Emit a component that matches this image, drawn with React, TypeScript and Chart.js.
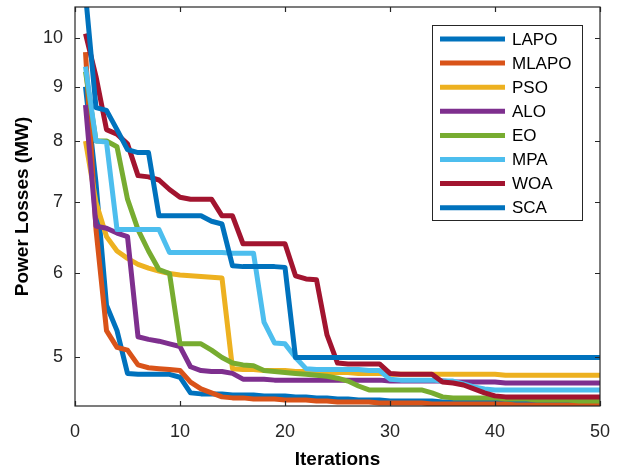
import React, { useEffect, useRef } from "react";
import { Chart, registerables } from "chart.js";

Chart.register(...registerables);

const seriesNames = ["LAPO", "MLAPO", "PSO", "ALO", "EO", "MPA", "WOA", "SCA"];
const seriesColors = ["#0072BD", "#D95319", "#EDB120", "#7E2F8E", "#77AC30", "#4DBEEE", "#A2142F", "#0072BD"];

const iterations = Array.from({ length: 50 }, (_, i) => i + 1);

const LAPO = [9.0, 7.3, 5.6, 5.3, 4.83, 4.82, 4.82, 4.82, 4.82, 4.79,
  4.63, 4.62, 4.62, 4.62, 4.61, 4.61, 4.61, 4.6, 4.6, 4.6,
  4.59, 4.59, 4.58, 4.58, 4.57, 4.57, 4.56, 4.56, 4.56, 4.55,
  4.55, 4.55, 4.55, 4.55, 4.54, 4.54, 4.54, 4.54, 4.54, 4.54,
  4.53, 4.53, 4.53, 4.53, 4.53, 4.53, 4.53, 4.53, 4.53, 4.53];
const MLAPO = [9.7, 6.6, 5.3, 5.11, 5.08, 4.92, 4.89, 4.88, 4.87, 4.86,
  4.74, 4.67, 4.63, 4.59, 4.58, 4.58, 4.57, 4.57, 4.57, 4.56,
  4.56, 4.56, 4.55, 4.55, 4.54, 4.54, 4.54, 4.54, 4.53, 4.53,
  4.53, 4.53, 4.53, 4.52, 4.52, 4.52, 4.52, 4.52, 4.52, 4.52,
  4.52, 4.51, 4.51, 4.51, 4.51, 4.51, 4.51, 4.51, 4.51, 4.51];
const PSO = [8.0, 7.0, 6.5, 6.3, 6.2, 6.12, 6.07, 6.03, 6.0, 5.98,
  5.97, 5.96, 5.95, 5.94, 4.88, 4.87, 4.87, 4.86, 4.86, 4.86,
  4.85, 4.85, 4.85, 4.84, 4.84, 4.84, 4.83, 4.83, 4.83, 4.82,
  4.82, 4.82, 4.82, 4.82, 4.82, 4.82, 4.82, 4.82, 4.82, 4.82,
  4.81, 4.81, 4.81, 4.81, 4.81, 4.81, 4.81, 4.81, 4.81, 4.81];
const ALO = [8.65, 6.65, 6.62, 6.55, 6.5, 5.23, 5.2, 5.18, 5.15, 5.12,
  4.9, 4.86, 4.85, 4.85, 4.83, 4.77, 4.77, 4.77, 4.76, 4.76,
  4.76, 4.76, 4.76, 4.76, 4.76, 4.76, 4.76, 4.76, 4.76, 4.75,
  4.75, 4.75, 4.75, 4.75, 4.75, 4.74, 4.74, 4.74, 4.74, 4.74,
  4.73, 4.73, 4.73, 4.73, 4.73, 4.73, 4.73, 4.73, 4.73, 4.73];
const EO = [9.3, 8.0, 8.0, 7.9, 7.05, 6.6, 6.3, 6.05, 6.0, 5.15,
  5.15, 5.15, 5.08, 5.0, 4.94, 4.92, 4.91, 4.86, 4.85, 4.84,
  4.83, 4.82, 4.81, 4.8, 4.78, 4.75, 4.7, 4.66, 4.66, 4.66,
  4.66, 4.66, 4.66, 4.63, 4.59, 4.58, 4.58, 4.58, 4.58, 4.58,
  4.57, 4.57, 4.57, 4.56, 4.56, 4.56, 4.56, 4.55, 4.55, 4.55];
const MPA = [9.4, 8.0, 7.98, 6.6, 6.6, 6.6, 6.6, 6.6, 6.28, 6.28,
  6.28, 6.28, 6.28, 6.28, 6.27, 6.27, 6.27, 5.4, 5.16, 5.15,
  5.0, 4.88, 4.87, 4.87, 4.87, 4.87, 4.87, 4.86, 4.86, 4.77,
  4.76, 4.76, 4.76, 4.76, 4.75, 4.75, 4.72, 4.69, 4.67, 4.66,
  4.66, 4.66, 4.66, 4.66, 4.66, 4.66, 4.66, 4.66, 4.66, 4.66];
const WOA = [10.1, 9.2, 8.2, 8.12, 7.95, 7.42, 7.4, 7.35, 7.2, 7.08,
  7.05, 7.05, 7.05, 6.8, 6.8, 6.4, 6.4, 6.4, 6.4, 6.4,
  5.97, 5.93, 5.92, 5.25, 4.94, 4.93, 4.93, 4.93, 4.93, 4.83,
  4.82, 4.82, 4.82, 4.82, 4.74, 4.73, 4.71, 4.67, 4.63, 4.6,
  4.59, 4.59, 4.59, 4.59, 4.59, 4.59, 4.59, 4.59, 4.59, 4.59];
const SCA = [11.0, 8.6, 8.55, 8.2, 7.85, 7.8, 7.8, 6.8, 6.8, 6.8,
  6.8, 6.8, 6.72, 6.68, 6.1, 6.09, 6.09, 6.09, 6.09, 6.08,
  5.0, 5.0, 5.0, 5.0, 5.0, 5.0, 5.0, 5.0, 5.0, 5.0,
  5.0, 5.0, 5.0, 5.0, 5.0, 5.0, 5.0, 5.0, 5.0, 5.0,
  5.0, 5.0, 5.0, 5.0, 5.0, 5.0, 5.0, 5.0, 5.0, 5.0];

const seriesValues = [LAPO, MLAPO, PSO, ALO, EO, MPA, WOA, SCA];

const xTickValues = [0, 10, 20, 30, 40, 50];
const yTickValues = [5, 6, 7, 8, 9, 10];

const FONT = "'Liberation Sans', Arial, Helvetica, sans-serif";
const AXIS_COLOR = "#262626";

const framePlugin = {
  id: "matlabFrame",
  afterDatasetsDraw(chart: any) {
    const { ctx, chartArea: a, scales } = chart;
    ctx.save();
    ctx.strokeStyle = AXIS_COLOR;
    ctx.lineWidth = 1.2;
    const tl = 5;
    ctx.beginPath();
    for (const v of xTickValues) {
      const px = Math.round(scales.x.getPixelForValue(v)) + 0.5;
      ctx.moveTo(px, a.bottom);
      ctx.lineTo(px, a.bottom - tl);
      ctx.moveTo(px, a.top);
      ctx.lineTo(px, a.top + tl);
    }
    for (const v of yTickValues) {
      const py = Math.round(scales.y.getPixelForValue(v)) + 0.5;
      ctx.moveTo(a.left, py);
      ctx.lineTo(a.left + tl, py);
      ctx.moveTo(a.right, py);
      ctx.lineTo(a.right - tl, py);
    }
    ctx.stroke();
    ctx.strokeRect(a.left, a.top, a.right - a.left, a.bottom - a.top);

    // legend
    const bw = 150, bh = 195;
    const bx = a.right - 18 - bw;
    const by = a.top + 18;
    ctx.fillStyle = "#ffffff";
    ctx.fillRect(bx, by, bw, bh);
    ctx.lineWidth = 1;
    ctx.strokeStyle = AXIS_COLOR;
    ctx.strokeRect(bx + 0.5, by + 0.5, bw, bh);
    ctx.font = `17px ${FONT}`;
    ctx.textBaseline = "middle";
    ctx.textAlign = "left";
    chart.data.datasets.forEach((ds: any, i: number) => {
      const y = by + 14 + i * 24.1;
      ctx.strokeStyle = ds.borderColor;
      ctx.lineWidth = 5;
      ctx.beginPath();
      ctx.moveTo(bx + 8, y);
      ctx.lineTo(bx + 73, y);
      ctx.stroke();
      ctx.fillStyle = "#000000";
      ctx.fillText(ds.label, bx + 80, y + 1);
    });
    ctx.restore();
  },
};

export default function App() {
  const ref = useRef<HTMLCanvasElement | null>(null);
  useEffect(() => {
    if (!ref.current) return;
    const datasets = seriesNames.map((name, i) => ({
      label: name,
      data: iterations.map((it, k) => ({ x: it, y: seriesValues[i][k] })),
      borderColor: seriesColors[i],
      backgroundColor: seriesColors[i],
      borderWidth: 5,
      pointRadius: 0,
      tension: 0,
      borderJoinStyle: "round" as const,
      order: seriesNames.length - i,
    }));
    const chart = new Chart(ref.current, {
      type: "line",
      data: { datasets },
      options: {
        animation: false,
        responsive: false,
        layout: { padding: { left: 0, right: 24, top: 7, bottom: 0 } },
        plugins: { legend: { display: false }, tooltip: { enabled: false } },
        scales: {
          x: {
            type: "linear",
            min: 0,
            max: 50,
            afterBuildTicks: (s: any) => {
              s.ticks = xTickValues.map((v) => ({ value: v }));
            },
            afterFit: (s: any) => {
              s.height = 66;
              s.paddingLeft = 0;
              s.paddingRight = 0;
            },
            grid: { display: false, drawTicks: false },
            border: { display: false },
            ticks: {
              padding: 15,
              color: AXIS_COLOR,
              font: { family: FONT, size: 18 },
              maxRotation: 0,
              callback: (v: any) => String(v),
            },
            title: {
              display: true,
              text: "Iterations",
              color: "#000",
              font: { family: FONT, size: 19, weight: "bold" },
              padding: { top: 0, bottom: 1 },
            },
          },
          y: {
            type: "logarithmic",
            min: 4.5,
            max: 10.7,
            afterBuildTicks: (s: any) => {
              s.ticks = yTickValues.map((v) => ({ value: v }));
            },
            afterFit: (s: any) => {
              s.width = 75;
              s.paddingTop = 0;
              s.paddingBottom = 0;
            },
            grid: { display: false, drawTicks: false },
            border: { display: false },
            ticks: {
              padding: 12,
              color: AXIS_COLOR,
              font: { family: FONT, size: 18 },
              callback: (v: any) => String(v),
            },
            title: {
              display: true,
              text: "Power Losses (MW)",
              color: "#000",
              font: { family: FONT, size: 19, weight: "bold" },
              padding: { top: 11, bottom: 0 },
            },
          },
        },
      },
      plugins: [framePlugin],
    });
    return () => chart.destroy();
  }, []);
  return (
    <div style={{ position: "fixed", left: 0, top: 0, width: 624, height: 472, background: "#fff" }}>
      <canvas ref={ref} width={624} height={472} style={{ display: "block" }} />
    </div>
  );
}
